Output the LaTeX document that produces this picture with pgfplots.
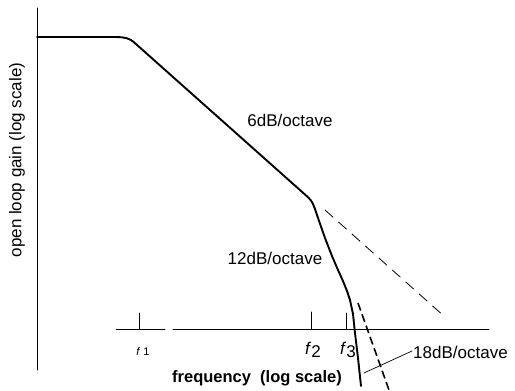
\documentclass[border=0pt]{standalone}
\usepackage{fontspec}
\setmainfont{Liberation Sans}
\usepackage{pgfplots}
\pgfplotsset{compat=1.18}
\tikzset{lbl/.style={font=\fontsize{17}{20}\selectfont, inner sep=0pt}}
\begin{document}
\begin{tikzpicture}
\begin{axis}[
    x=1pt, y=1pt,
    y dir=reverse,
    xmin=0, xmax=515,
    ymin=0, ymax=390,
    hide axis,
    clip=false,
    every axis plot/.append style={black, no markers, line join=round, line cap=round},
]
% keep the full page
\path[draw=none] (axis cs:0,0) rectangle (axis cs:515,390);

% gain axis and frequency axis
\addplot[line width=1pt] coordinates {(37,8) (37,370)};
\addplot[line width=0.8pt] coordinates {(116,329) (165,329)};
\addplot[line width=0.8pt] coordinates {(173,329) (489,329)};

% frequency marks f1, f2, f3
\addplot[line width=0.8pt] coordinates {(139,313) (139,329)};
\addplot[line width=1pt] coordinates {(311,312) (311,329)};
\addplot[line width=0.8pt] coordinates {(346,313) (346,329)};

% open loop gain
\addplot[line width=1.9pt] coordinates {
    (37,37) (116,37) (122,37.3) (127,38.3) (131,40) (134,42.3)
    (305,194.5) (308,197.2) (311,200.5) (313,204) (315,209)
    (318,218) (325,238) (332,256) (338,270) (343,281)
    (347,291) (350,300) (353,314) (355,333) (358,358) (361,386)
};

% extrapolated 6dB/octave and 12dB/octave slopes
\addplot[line width=0.8pt, line cap=butt, dash pattern=on 11pt off 7pt] coordinates {(325,210) (445,317)};
\addplot[line width=1.6pt, line cap=butt, dash pattern=on 8pt off 4pt] coordinates {(358,303) (389,390)};

% leader to 18dB/octave
\addplot[line width=0.7pt] coordinates {(364,373) (412,351)};

\node[lbl] at (axis cs:290,120) {6dB/octave};
\node[lbl] at (axis cs:275,258) {12dB/octave};
\node[lbl, anchor=west] at (axis cs:413,352) {18dB/octave};
\node[inner sep=0pt, font=\fontsize{11}{13}\selectfont] at (axis cs:143,352) {\textit{f} 1};
\node[lbl] at (axis cs:313,350) {\textit{f}\raisebox{-0.35ex}{2}};
\node[lbl] at (axis cs:348,350) {\textit{f}\raisebox{-0.35ex}{3}};
\node[inner sep=0pt, font=\bfseries\fontsize{16.5}{20}\selectfont] at (axis cs:257,378) {frequency\ \ (log scale)};
\node[inner sep=0pt, rotate=90, font=\fontsize{17}{20}\selectfont] at (axis cs:17,160) {open loop gain (log scale)};
\end{axis}
\end{tikzpicture}
\end{document}
